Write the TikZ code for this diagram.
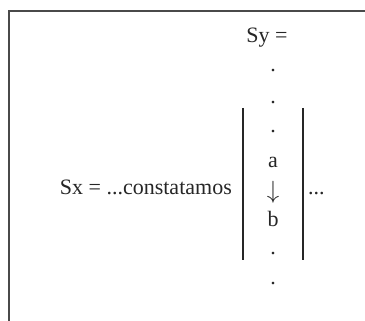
\documentclass[tikz,border=0pt]{standalone}
\usepackage{fontspec}
\setmainfont{Liberation Serif}
\usetikzlibrary{positioning}
\definecolor{Ink}{HTML}{262626}
\definecolor{Frame}{HTML}{4A4A4A}

\begin{document}
\begin{tikzpicture}[x=1pt,y=-1pt,
    term/.style={inner sep=0pt,text=Ink,font=\fontsize{22}{26}\selectfont},
    pt/.style={term},
    bar/.style={Ink,line width=1.1pt},
    frame/.style={Frame,line width=1.4pt}
  ]
    \useasboundingbox (0,0) rectangle (365,321);
    \draw[frame] (365,11) -- (9,11) -- (9,321);
    \node[term,anchor=base] (sy) at (267,43) {Sy =};
    \node[term,anchor=base east] (sx) at (232,195) {Sx = ...constatamos};
    \node[term,anchor=base] (a) at (273,168) {a};
    \node[term,font=\fontsize{27}{30}\selectfont] (arrow) at (273,192) {$\downarrow$};
    \node[term,anchor=base] (b) at (273,227) {b};
    \node[term,anchor=base west] (rest) at (308,195) {...};
    \foreach \n/\y in {p1/71,p2/103,p3/132,p4/254,p5/284} \node[pt] (\n) at (273,\y) {.};
    \coordinate (lt) at (243,108); \coordinate (lb) at (243,260);
    \coordinate (rt) at (303,108); \coordinate (rb) at (303,260);
    \draw[bar] (lt) -- (lb);
    \draw[bar] (rt) -- (rb);
  \end{tikzpicture}
\end{document}
